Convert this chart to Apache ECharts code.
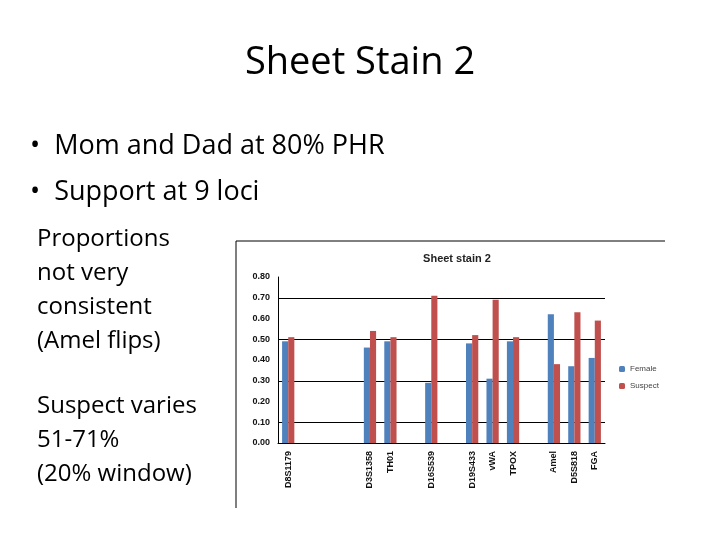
<!DOCTYPE html>
<html><head><meta charset="utf-8">
<script src="https://cdn.jsdelivr.net/npm/echarts@6/dist/echarts.min.js"></script>
<style>html,body{margin:0;background:#fff}#c{width:720px;height:540px}</style>
</head><body><div id="c"></div>
<script>
const loci = ['D8S1179', '', '', '', 'D3S1358', 'TH01', '', 'D16S539', '', 'D19S433', 'vWA', 'TPOX', '', 'Amel', 'D5S818', 'FGA'];
const female = [0.49, null, null, null, 0.46, 0.49, null, 0.29, null, 0.48, 0.31, 0.49, null, 0.62, 0.37, 0.41];
const suspect = [0.51, null, null, null, 0.54, 0.51, null, 0.71, null, 0.52, 0.69, 0.51, null, 0.38, 0.63, 0.59];
const yTicks = [0, 0.1, 0.2, 0.3, 0.4, 0.5, 0.6, 0.7, 0.8];

const font = 'Open Sans, Liberation Sans, sans-serif';
const chart = echarts.init(document.getElementById('c'));
chart.setOption({
    animation: false,
    title: {
        text: 'Sheet stain 2', left: 452, top: 248, textAlign: 'center',
        textStyle: {fontSize: 11, fontWeight: 'bold', color: '#222', fontFamily: 'Liberation Sans'}
    },
    legend: {
        orient: 'vertical', left: 614, top: 360, itemWidth: 6, itemHeight: 6, itemGap: 9,
        textStyle: {fontSize: 8, color: '#444', fontFamily: 'Liberation Sans'}
    },
    grid: {left: 278, top: 277, width: 327, height: 166},
    xAxis: {
        type: 'category', data: loci,
        axisLine: {lineStyle: {color: '#000'}},
        axisTick: {interval: 0, length: 4, lineStyle: {color: '#000'}},
        axisLabel: {interval: 0, rotate: 90, fontSize: 9, fontWeight: 'bold', color: '#111', fontFamily: 'Liberation Sans'}
    },
    yAxis: {
        type: 'value', min: yTicks[0], max: yTicks[yTicks.length - 1], interval: 0.1,
        axisLine: {show: true, lineStyle: {color: '#000'}},
        axisLabel: {fontSize: 9, fontWeight: 'bold', color: '#111', fontFamily: 'Liberation Sans',
            formatter: v => v.toFixed(2)},
        splitLine: {lineStyle: {color: ['transparent', '#000']}}
    },
    series: [
        {name: 'Female', type: 'bar', data: female, barGap: '0%', barCategoryGap: '40%', itemStyle: {color: '#4f81bd'}},
        {name: 'Suspect', type: 'bar', data: suspect, itemStyle: {color: '#c0504d'}}
    ],
    graphic: [
        {type: 'text', left: 'center', top: 44, style: {text: 'Sheet Stain 2', fontSize: 38, fill: '#000', fontFamily: font}},
        {type: 'text', left: 30, top: 133, style: {text: '•  Mom and Dad at 80% PHR', fontSize: 27, fill: '#000', fontFamily: font}},
        {type: 'text', left: 30, top: 179, style: {text: '•  Support at 9 loci', fontSize: 27, fill: '#000', fontFamily: font}},
        {type: 'text', left: 37, top: 222, style: {text: 'Proportions\nnot very\nconsistent\n(Amel flips)', fontSize: 24, lineHeight: 34, fill: '#000', fontFamily: font}},
        {type: 'text', left: 37, top: 389, style: {text: 'Suspect varies\n51-71%\n(20% window)', fontSize: 24, lineHeight: 34, fill: '#000', fontFamily: font}},
        {type: 'line', shape: {x1: 236, y1: 241, x2: 665, y2: 241}, style: {stroke: '#000', lineWidth: 1}},
        {type: 'line', shape: {x1: 236, y1: 241, x2: 236, y2: 508}, style: {stroke: '#000', lineWidth: 1}}
    ]
});
</script></body></html>
